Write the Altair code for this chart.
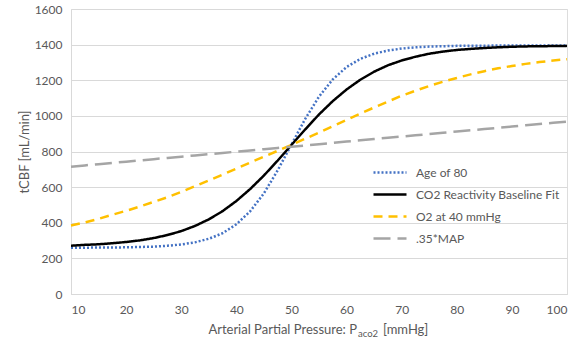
import altair as alt
import pandas as pd

# Arterial partial pressure of CO2 (mmHg)
paco2 = [10, 12.5, 15, 17.5, 20, 22.5, 25, 27.5, 30, 32.5, 35, 37.5, 40, 42.5, 45,
         47.5, 50, 52.5, 55, 57.5, 60, 62.5, 65, 67.5, 70, 72.5, 75, 77.5, 80,
         82.5, 85, 87.5, 90, 92.5, 95, 97.5, 100]

# Total cerebral blood flow (mL/min) for each scenario
age_80 = [260, 260, 261, 261, 262, 264, 266, 271, 278, 290, 310, 341, 391, 464, 565,
          694, 839, 983, 1108, 1205, 1274, 1320, 1349, 1367, 1378, 1385, 1389, 1391,
          1393, 1394, 1394, 1395, 1395, 1395, 1395, 1395, 1395]
baseline = [271, 276, 279, 285, 292, 301, 314, 331, 353, 382, 419, 465, 522, 589, 665,
            749, 837, 924, 1008, 1083, 1148, 1203, 1248, 1284, 1311, 1332, 1349, 1361,
            1370, 1376, 1381, 1385, 1388, 1390, 1391, 1392, 1393]
o2_40 = [385, 402, 422, 445, 467, 491, 517, 543, 573, 605, 637, 670, 704, 738, 771,
         804, 837, 872, 906, 942, 978, 1013, 1047, 1080, 1113, 1141, 1168, 1192, 1213,
         1233, 1251, 1267, 1280, 1292, 1302, 1311, 1318]
map_35 = [715, 722, 729, 736, 743, 750, 757, 764, 771, 778, 785, 792, 799, 806, 813,
          820, 827, 834, 841, 848, 856, 863, 870, 877, 884, 891, 898, 905, 912, 919,
          926, 933, 940, 947, 954, 961, 968]

series_names = ["Age of 80", "CO2 Reactivity Baseline Fit", "O2 at 40 mmHg", ".35*MAP"]
series_values = [age_80, baseline, o2_40, map_35]
series_colors = ["#4472C4", "#000000", "#FFC000", "#A5A5A5"]
series_dashes = [[2, 2], [1, 0], [9, 6], [17, 7]]

rows = []
for name, vals in zip(series_names, series_values):
    for x, v in zip(paco2, vals):
        rows.append({"series": name, "paco2": x, "tcbf": v})
df = pd.DataFrame(rows)

FONT = "Lato"
TXT = "#595959"
GRID = "#D9D9D9"
W, H = 496, 285

# legend swatch: a horizontal stroke 1.5x the nominal symbol size, so rows stay compact
legend = alt.Legend(
    title=None, orient="none", legendX=306.5, legendY=151,
    symbolType="M-1.5,0H1.5", symbolSize=484, symbolStrokeWidth=2.5,
    labelFont=FONT, labelFontSize=12, labelColor=TXT, labelOffset=13.5,
    rowPadding=3,
)

lines = alt.Chart(df).mark_line(strokeWidth=2.5, strokeCap="butt").encode(
    x=alt.X("paco2:Q", scale=alt.Scale(domain=[10, 100], nice=False),
            axis=alt.Axis(values=list(range(10, 101, 10)), title=None, grid=False,
                          ticks=False, domainColor=GRID, labelFont=FONT,
                          labelFontSize=12, labelColor=TXT, labelPadding=10)),
    y=alt.Y("tcbf:Q", scale=alt.Scale(domain=[0, 1600], nice=False),
            axis=alt.Axis(values=list(range(0, 1601, 200)), format="d",
                          title="tCBF [mL/min]",
                          ticks=False, domainColor=GRID, gridColor=GRID,
                          labelFont=FONT, labelFontSize=12, labelColor=TXT,
                          labelPadding=9, titleFont=FONT, titleFontSize=13,
                          titleFontWeight="normal", titleColor=TXT,
                          titleX=-47, titleBaseline="middle")),
    color=alt.Color("series:N", sort=series_names,
                    scale=alt.Scale(domain=series_names, range=series_colors),
                    legend=legend),
    strokeDash=alt.StrokeDash("series:N", sort=series_names,
                              scale=alt.Scale(domain=series_names, range=series_dashes),
                              legend=legend),
    detail="series:N",
)

# x-axis title with the subscripted "aco2"
title_main = alt.Chart().mark_text(
    font=FONT, fontSize=13, color=TXT, align="right", baseline="alphabetic"
).encode(x=alt.value(286), y=alt.value(325), text=alt.value("Arterial Partial Pressure: P"))
title_sub = alt.Chart().mark_text(
    font=FONT, fontSize=9.5, color=TXT, align="left", baseline="alphabetic"
).encode(x=alt.value(287), y=alt.value(328), text=alt.value("aco2"))
title_unit = alt.Chart().mark_text(
    font=FONT, fontSize=13, color=TXT, align="left", baseline="alphabetic"
).encode(x=alt.value(312), y=alt.value(325), text=alt.value("[mmHg]"))

chart = alt.layer(lines, title_main, title_sub, title_unit).properties(
    width=W, height=H,
    autosize=alt.AutoSizeParams(type="none"),
    padding={"left": 71, "top": 9, "right": 13, "bottom": 51},
).configure_view(stroke=None).configure(background="white")

chart.save("out.html", embed_options={"renderer": "svg", "actions": False})
